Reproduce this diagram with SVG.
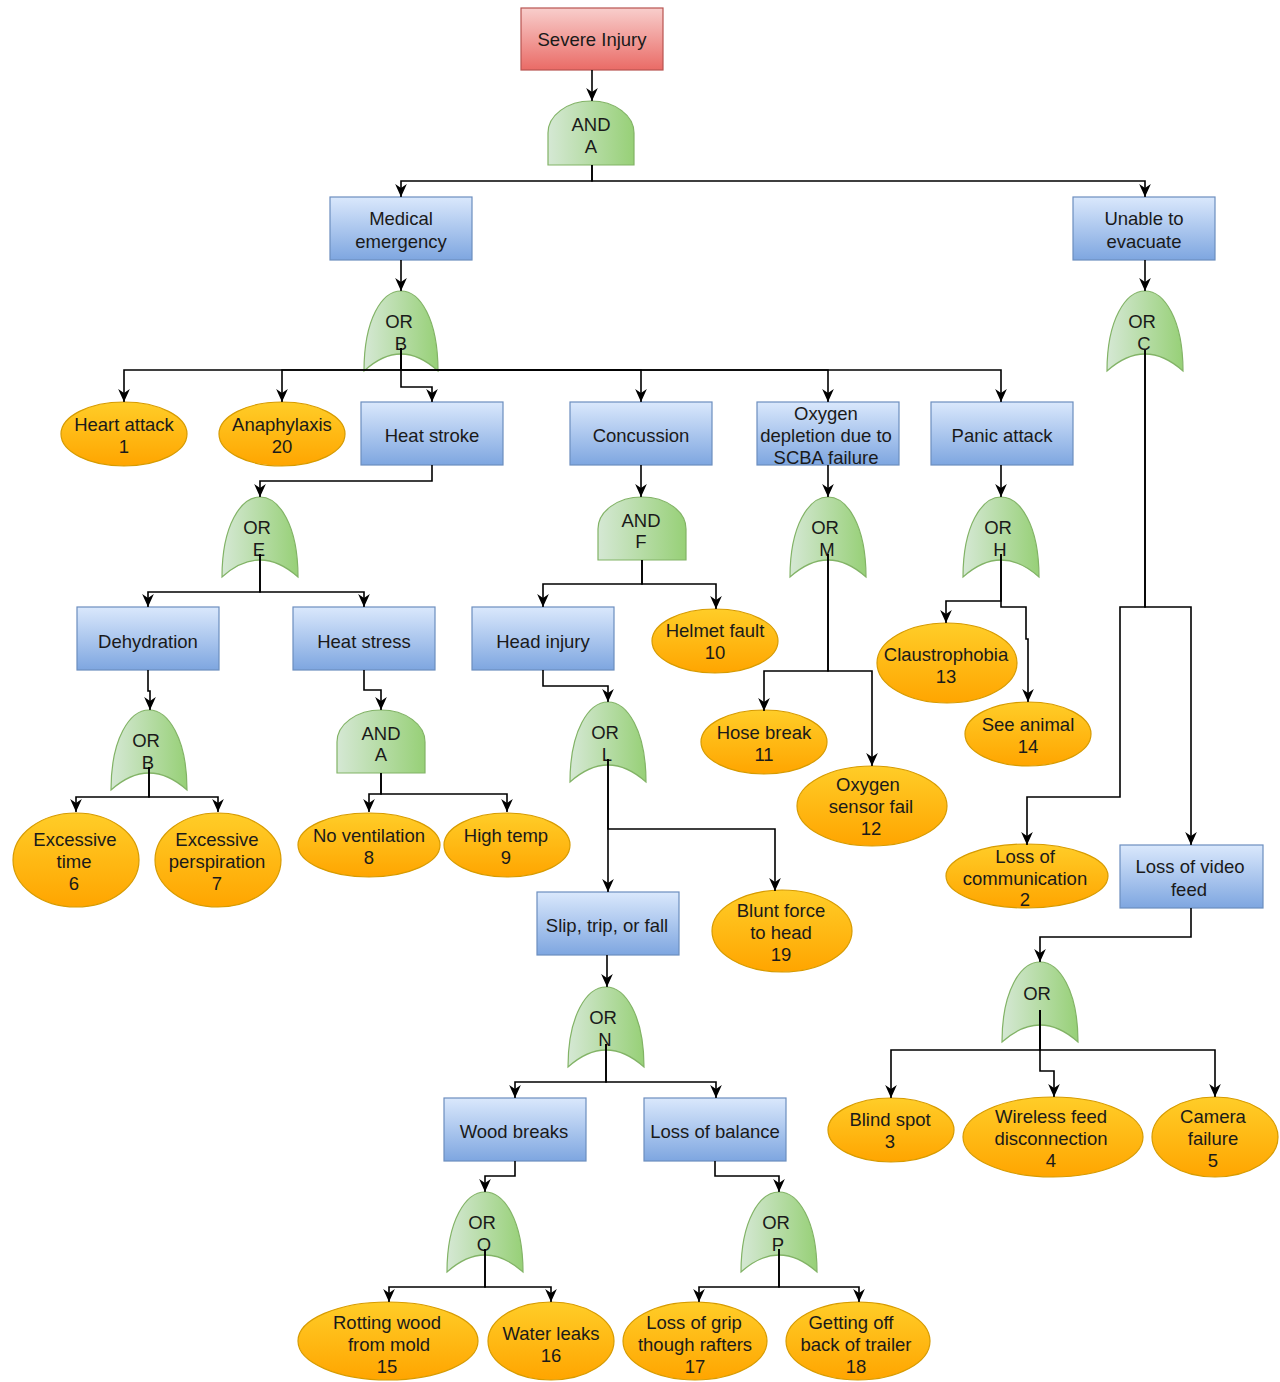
<svg xmlns="http://www.w3.org/2000/svg" width="1280" height="1382" viewBox="0 0 1280 1382">
<style>
.t{font-family:"Liberation Sans",Arial,sans-serif;font-size:18.5px;fill:#1a1a1a;text-anchor:middle}
.box{fill:url(#gBlue);stroke:#6c8ebf;stroke-width:1.2}
.top{fill:url(#gRed);stroke:#b85450;stroke-width:1.2}
.ev{fill:url(#gOrange);stroke:#d79b00;stroke-width:1.2}
.gate{fill:url(#gGreen);stroke:#82b366;stroke-width:1.2}
.c{fill:none;stroke:#000;stroke-width:1.6;marker-end:url(#arr)}
</style>
<defs>
<linearGradient id="gBlue" x1="0" y1="0" x2="0" y2="1"><stop offset="0" stop-color="#dae8fc"/><stop offset="1" stop-color="#7ea6e0"/></linearGradient>
<linearGradient id="gRed" x1="0" y1="0" x2="0" y2="1"><stop offset="0" stop-color="#f8cecc"/><stop offset="1" stop-color="#ea6b66"/></linearGradient>
<linearGradient id="gOrange" x1="0" y1="0" x2="0" y2="1"><stop offset="0" stop-color="#ffcd28"/><stop offset="1" stop-color="#ffa500"/></linearGradient>
<linearGradient id="gGreen" x1="0" y1="0" x2="1" y2="0"><stop offset="0" stop-color="#d5e8d4"/><stop offset="1" stop-color="#97d077"/></linearGradient>
<marker id="arr" viewBox="0 0 10 10" refX="10" refY="5" markerWidth="13" markerHeight="13" markerUnits="userSpaceOnUse" orient="auto"><path d="M0,0.5 L10,5 L0,9.5 L3,5 Z" fill="#000"/></marker>
</defs>

<g id="nodes">
<g id="severe-injury"><rect class="top" x="521" y="8" width="142" height="62"/><text class="t" x="592" y="46">Severe Injury</text></g>
<g id="gate-and-a"><path class="gate" d="M548,165 V133 A43,32 0 0 1 634,133 V165 Z"/><text class="t" x="591" y="131">AND</text><text class="t" x="591" y="153">A</text></g>
<g id="medical-emergency"><rect class="box" x="330" y="197" width="142" height="63"/><text class="t" x="401" y="225">Medical</text><text class="t" x="401" y="248">emergency</text></g>
<g id="unable-to-evacuate"><rect class="box" x="1073" y="197" width="142" height="63"/><text class="t" x="1144" y="225">Unable to</text><text class="t" x="1144" y="248">evacuate</text></g>
<g id="gate-or-b"><path class="gate" d="M364,371 C364,319 382,291 401,291 C420,291 438,319 438,371 Q401,337 364,371 Z"/><text class="t" x="399" y="328">OR</text><text class="t" x="401" y="350">B</text></g>
<g id="gate-or-c"><path class="gate" d="M1107,371 C1107,319 1126,291 1145,291 C1164,291 1183,319 1183,371 Q1145,337 1107,371 Z"/><text class="t" x="1142" y="328">OR</text><text class="t" x="1144" y="350">C</text></g>
<g id="heart-attack"><ellipse class="ev" cx="124" cy="434" rx="63" ry="32"/><text class="t" x="124" y="431">Heart attack</text><text class="t" x="124" y="453">1</text></g>
<g id="anaphylaxis"><ellipse class="ev" cx="282" cy="434" rx="63" ry="32"/><text class="t" x="282" y="431">Anaphylaxis</text><text class="t" x="282" y="453">20</text></g>
<g id="heat-stroke"><rect class="box" x="361" y="402" width="142" height="63"/><text class="t" x="432" y="442">Heat stroke</text></g>
<g id="concussion"><rect class="box" x="570" y="402" width="142" height="63"/><text class="t" x="641" y="442">Concussion</text></g>
<g id="oxygen-depletion"><rect class="box" x="757" y="402" width="142" height="63"/><text class="t" x="826" y="420">Oxygen</text><text class="t" x="826" y="442">depletion due to</text><text class="t" x="826" y="464">SCBA failure</text></g>
<g id="panic-attack"><rect class="box" x="931" y="402" width="142" height="63"/><text class="t" x="1002" y="442">Panic attack</text></g>
<g id="gate-or-e"><path class="gate" d="M222,577 C222,525 241,497 260,497 C279,497 298,525 298,577 Q260,543 222,577 Z"/><text class="t" x="257" y="534">OR</text><text class="t" x="259" y="556">E</text></g>
<g id="gate-and-f"><path class="gate" d="M598,560 V529 A44,32 0 0 1 686,529 V560 Z"/><text class="t" x="641" y="527">AND</text><text class="t" x="641" y="548">F</text></g>
<g id="gate-or-m"><path class="gate" d="M790,577 C790,525 809,497 828,497 C847,497 866,525 866,577 Q828,543 790,577 Z"/><text class="t" x="825" y="534">OR</text><text class="t" x="827" y="556">M</text></g>
<g id="gate-or-h"><path class="gate" d="M963,577 C963,525 982,497 1001,497 C1020,497 1039,525 1039,577 Q1001,543 963,577 Z"/><text class="t" x="998" y="534">OR</text><text class="t" x="1000" y="556">H</text></g>
<g id="dehydration"><rect class="box" x="77" y="607" width="142" height="63"/><text class="t" x="148" y="648">Dehydration</text></g>
<g id="heat-stress"><rect class="box" x="293" y="607" width="142" height="63"/><text class="t" x="364" y="648">Heat stress</text></g>
<g id="head-injury"><rect class="box" x="472" y="607" width="142" height="63"/><text class="t" x="543" y="648">Head injury</text></g>
<g id="helmet-fault"><ellipse class="ev" cx="715" cy="641" rx="63" ry="32"/><text class="t" x="715" y="637">Helmet fault</text><text class="t" x="715" y="659">10</text></g>
<g id="claustrophobia"><ellipse class="ev" cx="947" cy="663" rx="70" ry="40"/><text class="t" x="946" y="661">Claustrophobia</text><text class="t" x="946" y="683">13</text></g>
<g id="gate-or-b2"><path class="gate" d="M111,790 C111,738 130,710 149,710 C168,710 187,738 187,790 Q149,756 111,790 Z"/><text class="t" x="146" y="747">OR</text><text class="t" x="148" y="769">B</text></g>
<g id="gate-and-a2"><path class="gate" d="M337,773 V742 A44,32 0 0 1 425,742 V773 Z"/><text class="t" x="381" y="740">AND</text><text class="t" x="381" y="761">A</text></g>
<g id="gate-or-l"><path class="gate" d="M570,782 C570,730 589,702 608,702 C627,702 646,730 646,782 Q608,748 570,782 Z"/><text class="t" x="605" y="739">OR</text><text class="t" x="607" y="761">L</text></g>
<g id="hose-break"><ellipse class="ev" cx="764" cy="742" rx="63" ry="32"/><text class="t" x="764" y="739">Hose break</text><text class="t" x="764" y="761">11</text></g>
<g id="see-animal"><ellipse class="ev" cx="1028" cy="734" rx="63" ry="32"/><text class="t" x="1028" y="731">See animal</text><text class="t" x="1028" y="753">14</text></g>
<g id="oxygen-sensor-fail"><ellipse class="ev" cx="872" cy="806" rx="75" ry="40"/><text class="t" x="868" y="791">Oxygen</text><text class="t" x="871" y="813">sensor fail</text><text class="t" x="871" y="835">12</text></g>
<g id="excessive-time"><ellipse class="ev" cx="76" cy="860" rx="63" ry="47"/><text class="t" x="75" y="846">Excessive</text><text class="t" x="74" y="868">time</text><text class="t" x="74" y="890">6</text></g>
<g id="excessive-perspiration"><ellipse class="ev" cx="218" cy="860" rx="63" ry="47"/><text class="t" x="217" y="846">Excessive</text><text class="t" x="217" y="868">perspiration</text><text class="t" x="217" y="890">7</text></g>
<g id="no-ventilation"><ellipse class="ev" cx="369" cy="845" rx="71" ry="32"/><text class="t" x="369" y="842">No ventilation</text><text class="t" x="369" y="864">8</text></g>
<g id="high-temp"><ellipse class="ev" cx="507" cy="845" rx="63" ry="32"/><text class="t" x="506" y="842">High temp</text><text class="t" x="506" y="864">9</text></g>
<g id="loss-of-communication"><ellipse class="ev" cx="1027" cy="876" rx="81" ry="32"/><text class="t" x="1025" y="863">Loss of</text><text class="t" x="1025" y="885">communication</text><text class="t" x="1025" y="906">2</text></g>
<g id="loss-of-video-feed"><rect class="box" x="1120" y="845" width="143" height="63"/><text class="t" x="1190" y="873">Loss of video</text><text class="t" x="1189" y="896">feed</text></g>
<g id="slip-trip-fall"><rect class="box" x="537" y="892" width="142" height="63"/><text class="t" x="607" y="932">Slip, trip, or fall</text></g>
<g id="blunt-force"><ellipse class="ev" cx="782" cy="931" rx="70" ry="41"/><text class="t" x="781" y="917">Blunt force</text><text class="t" x="781" y="939">to head</text><text class="t" x="781" y="961">19</text></g>
<g id="gate-or-video"><path class="gate" d="M1002,1042 C1002,990 1021,962 1040,962 C1059,962 1078,990 1078,1042 Q1040,1008 1002,1042 Z"/><text class="t" x="1037" y="1000">OR</text></g>
<g id="gate-or-n"><path class="gate" d="M568,1067 C568,1015 587,987 606,987 C625,987 644,1015 644,1067 Q606,1033 568,1067 Z"/><text class="t" x="603" y="1024">OR</text><text class="t" x="605" y="1046">N</text></g>
<g id="blind-spot"><ellipse class="ev" cx="891" cy="1130" rx="63" ry="32"/><text class="t" x="890" y="1126">Blind spot</text><text class="t" x="890" y="1148">3</text></g>
<g id="wireless-feed"><ellipse class="ev" cx="1053" cy="1137" rx="90" ry="40"/><text class="t" x="1051" y="1123">Wireless feed</text><text class="t" x="1051" y="1145">disconnection</text><text class="t" x="1051" y="1167">4</text></g>
<g id="camera-failure"><ellipse class="ev" cx="1215" cy="1137" rx="63" ry="40"/><text class="t" x="1213" y="1123">Camera</text><text class="t" x="1213" y="1145">failure</text><text class="t" x="1213" y="1167">5</text></g>
<g id="wood-breaks"><rect class="box" x="444" y="1098" width="142" height="63"/><text class="t" x="514" y="1138">Wood breaks</text></g>
<g id="loss-of-balance"><rect class="box" x="644" y="1098" width="142" height="63"/><text class="t" x="715" y="1138">Loss of balance</text></g>
<g id="gate-or-o"><path class="gate" d="M447,1272 C447,1220 466,1192 485,1192 C504,1192 523,1220 523,1272 Q485,1238 447,1272 Z"/><text class="t" x="482" y="1229">OR</text><text class="t" x="484" y="1251">O</text></g>
<g id="gate-or-p"><path class="gate" d="M741,1272 C741,1220 760,1192 779,1192 C798,1192 817,1220 817,1272 Q779,1238 741,1272 Z"/><text class="t" x="776" y="1229">OR</text><text class="t" x="778" y="1251">P</text></g>
<g id="rotting-wood"><ellipse class="ev" cx="388" cy="1341" rx="90" ry="39"/><text class="t" x="387" y="1329">Rotting wood</text><text class="t" x="389" y="1351">from mold</text><text class="t" x="387" y="1373">15</text></g>
<g id="water-leaks"><ellipse class="ev" cx="551" cy="1341" rx="63" ry="39"/><text class="t" x="551" y="1340">Water leaks</text><text class="t" x="551" y="1362">16</text></g>
<g id="loss-of-grip"><ellipse class="ev" cx="695" cy="1341" rx="72" ry="39"/><text class="t" x="694" y="1329">Loss of grip</text><text class="t" x="695" y="1351">though rafters</text><text class="t" x="695" y="1373">17</text></g>
<g id="getting-off"><ellipse class="ev" cx="858" cy="1341" rx="72" ry="39"/><text class="t" x="851" y="1329">Getting off</text><text class="t" x="856" y="1351">back of trailer</text><text class="t" x="856" y="1373">18</text></g>
</g>

<g id="connectors">
<path class="c" d="M592,70 V101"/>
<path class="c" d="M592,165 V181 H401 V197"/>
<path class="c" d="M592,165 V181 H1145 V197"/>
<path class="c" d="M401,260 V291"/>
<path class="c" d="M1145,260 V291"/>
<path class="c" d="M401,348 V370 H124 V402"/>
<path class="c" d="M401,348 V370 H282 V402"/>
<path class="c" d="M401,348 V387 H432 V402"/>
<path class="c" d="M401,348 V370 H641 V402"/>
<path class="c" d="M401,348 V370 H828 V402"/>
<path class="c" d="M401,348 V370 H1001 V402"/>
<path class="c" d="M432,465 V481 H260 V497"/>
<path class="c" d="M641,465 V497"/>
<path class="c" d="M828,465 V497"/>
<path class="c" d="M1001,465 V497"/>
<path class="c" d="M260,554 V592 H148 V607"/>
<path class="c" d="M260,554 V592 H364 V607"/>
<path class="c" d="M148,670 V691 H150 V710"/>
<path class="c" d="M364,670 V690 H381 V710"/>
<path class="c" d="M149,767 V797 H76 V812"/>
<path class="c" d="M149,767 V797 H218 V812"/>
<path class="c" d="M381,773 V794 H369 V812"/>
<path class="c" d="M381,773 V794 H507 V812"/>
<path class="c" d="M642,560 V584 H543 V607"/>
<path class="c" d="M642,560 V584 H716 V609"/>
<path class="c" d="M543,670 V686 H608 V702"/>
<path class="c" d="M608,759 V892"/>
<path class="c" d="M608,759 V829 H775 V891"/>
<path class="c" d="M828,554 V671 H764 V711"/>
<path class="c" d="M828,554 V671 H872 V766"/>
<path class="c" d="M1001,554 V601 H946 V623"/>
<path class="c" d="M1001,554 V607 H1026 V639 H1028 V702"/>
<path class="c" d="M1145,350 V607 H1120 V797 H1027 V845"/>
<path class="c" d="M1145,350 V607 H1191 V845"/>
<path class="c" d="M1191,908 V937 H1040 V962"/>
<path class="c" d="M1040,1010 V1050 H891 V1098"/>
<path class="c" d="M1040,1010 V1071 H1054 V1097"/>
<path class="c" d="M1040,1010 V1050 H1215 V1097"/>
<path class="c" d="M607,955 V987"/>
<path class="c" d="M606,1044 V1082 H515 V1098"/>
<path class="c" d="M606,1044 V1082 H716 V1098"/>
<path class="c" d="M515,1161 V1176 H485 V1192"/>
<path class="c" d="M715,1161 V1176 H779 V1192"/>
<path class="c" d="M485,1249 V1287 H389 V1302"/>
<path class="c" d="M485,1249 V1287 H551 V1302"/>
<path class="c" d="M779,1249 V1287 H699 V1302"/>
<path class="c" d="M779,1249 V1287 H859 V1302"/>
</g>
</svg>
